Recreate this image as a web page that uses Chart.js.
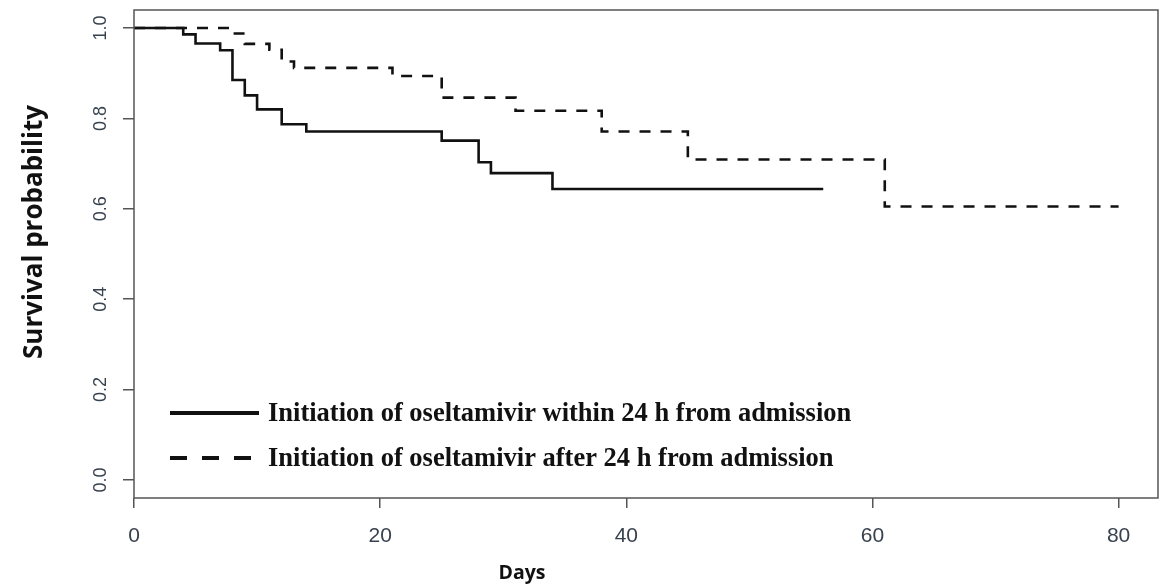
<!DOCTYPE html>
<html lang="en">
<head>
<meta charset="UTF-8">
<title>Survival probability - oseltamivir</title>
<script src="https://cdn.jsdelivr.net/npm/chart.js"></script>
<style>
  body { margin: 0; background: #fff; }
  #kmChart { display: block; }
</style>
</head>
<body>
<canvas id="kmChart" width="1161" height="586"></canvas>
<script>
// values (day, survival)
const withinDays = [0, 4, 5, 7, 8, 9, 10, 12, 14, 25, 28, 29, 34, 56];
const withinSurv = [1.0, 0.986, 0.966, 0.951, 0.885, 0.851, 0.820, 0.787, 0.771, 0.751, 0.703, 0.679, 0.644, 0.644];
const afterDays = [0, 8, 9, 11, 12, 13, 21, 25, 31, 38, 45, 61, 80];
const afterSurv = [1.0, 0.988, 0.965, 0.952, 0.926, 0.912, 0.894, 0.846, 0.817, 0.771, 0.709, 0.605, 0.605];
const seriesNames = [
    'Initiation of oseltamivir within 24 h from admission',
    'Initiation of oseltamivir after 24 h from admission'
];
const xTicks = [0, 20, 40, 60, 80];
const yTicks = [0.0, 0.2, 0.4, 0.6, 0.8, 1.0];
const xTitle = 'Days';
const yTitle = 'Survival probability';

const toPoints = (xs, ys) => xs.map((x, i) => ({ x: x, y: ys[i] }));

const axisGray = '#555';
const labelGray = '#38424e';

// box, rotated y labels, titles and the legend, R style
const rFrame = {
    id: 'rFrame',
    afterDraw(chart) {
        const ctx = chart.ctx;
        const a = chart.chartArea;
        const ys = chart.scales.y;
        ctx.save();

        ctx.strokeStyle = axisGray;
        ctx.lineWidth = 1.5;
        ctx.strokeRect(a.left, a.top, a.right - a.left, a.bottom - a.top);

        // y tick labels, turned like R does (las = 0)
        ctx.fillStyle = labelGray;
        ctx.font = '18px "Liberation Sans", Arial, sans-serif';
        ctx.textAlign = 'center';
        ctx.textBaseline = 'middle';
        yTicks.forEach(v => {
            ctx.save();
            ctx.translate(a.left - 33, ys.getPixelForValue(v));
            ctx.rotate(-Math.PI / 2);
            ctx.fillText(v.toFixed(1), 0, 0);
            ctx.restore();
        });

        // axis titles
        ctx.fillStyle = '#111';
        ctx.font = 'bold 26px "Open Sans", sans-serif';
        ctx.save();
        ctx.translate(35, 232);
        ctx.rotate(-Math.PI / 2);
        ctx.fillText(yTitle, 0, 0);
        ctx.restore();
        ctx.font = 'bold 19.5px "Open Sans", sans-serif';
        ctx.fillText(xTitle, 522, 573);

        // legend
        const lx = a.left + 36;
        const rows = [413, 458];
        chart.data.datasets.forEach((ds, i) => {
            ctx.beginPath();
            ctx.strokeStyle = '#111';
            ctx.lineWidth = 4;
            ctx.setLineDash(i === 0 ? [] : [17, 15]);
            ctx.moveTo(lx, rows[i]);
            ctx.lineTo(lx + 89, rows[i]);
            ctx.stroke();
            ctx.setLineDash([]);
            ctx.font = 'bold 26.5px "Liberation Serif", "Times New Roman", serif';
            ctx.textAlign = 'left';
            ctx.fillText(ds.label, lx + 98, rows[i] + 1);
        });

        ctx.restore();
    }
};

const chart = new Chart(document.getElementById('kmChart'), {
    type: 'line',
    data: {
        datasets: [{
            label: seriesNames[0],
            data: toPoints(withinDays, withinSurv),
            stepped: 'before',
            borderColor: '#111',
            borderWidth: 2.6,
            pointRadius: 0,
            fill: false
        }, {
            label: seriesNames[1],
            data: toPoints(afterDays, afterSurv),
            stepped: 'before',
            borderColor: '#111',
            borderWidth: 2.6,
            borderDash: [11, 10],
            pointRadius: 0,
            fill: false
        }]
    },
    options: {
        responsive: false,
        animation: false,
        layout: { padding: { top: 10, right: 3, left: 0, bottom: 0 } },
        plugins: {
            legend: { display: false },
            tooltip: { enabled: false }
        },
        scales: {
            x: {
                type: 'linear',
                min: 0,
                max: 83.2,
                afterBuildTicks: s => { s.ticks = xTicks.map(v => ({ value: v })); },
                afterFit: s => { s.height = 88; },
                border: { display: false },
                grid: { drawOnChartArea: false, drawTicks: true, tickLength: 10, color: axisGray, lineWidth: 1.5 },
                ticks: {
                    padding: 16,
                    color: labelGray,
                    font: { family: '"Liberation Sans", Arial, sans-serif', size: 21 },
                    maxRotation: 0
                }
            },
            y: {
                type: 'linear',
                min: -0.04,
                max: 1.04,
                afterBuildTicks: s => { s.ticks = yTicks.map(v => ({ value: v })); },
                afterFit: s => { s.width = 134; },
                border: { display: false },
                grid: { drawOnChartArea: false, drawTicks: true, tickLength: 11, color: axisGray, lineWidth: 1.5 },
                ticks: { display: false }
            }
        }
    },
    plugins: [rFrame]
});
</script>
</body>
</html>
